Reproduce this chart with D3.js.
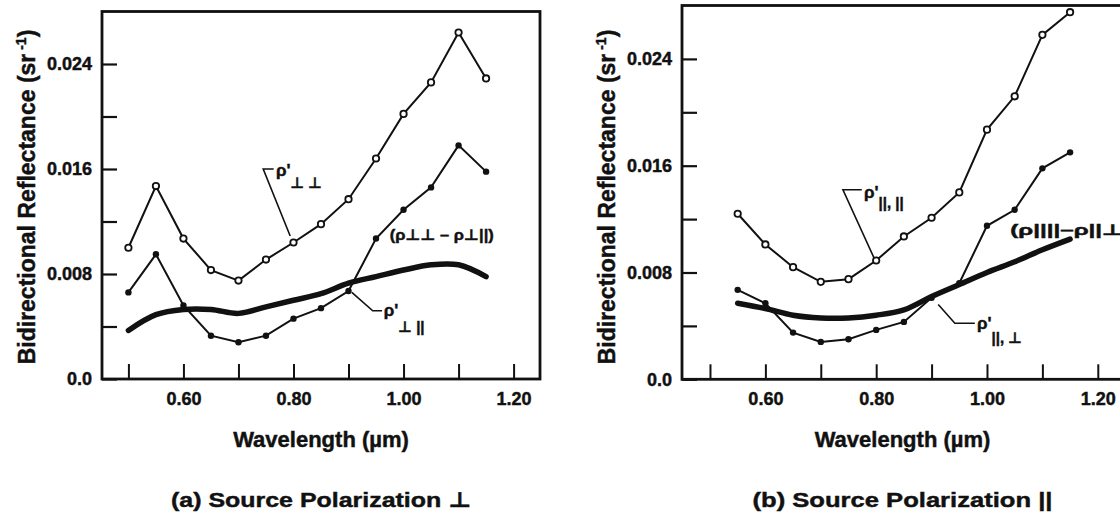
<!DOCTYPE html>
<html>
<head>
<meta charset="utf-8">
<script src="https://cdn.jsdelivr.net/npm/d3@7"></script>
<style>
  body { margin: 0; background: #fff; }
  svg { display: block; }
  text { font-family: "Liberation Sans", "DejaVu Sans", Arial, sans-serif; font-weight: bold; fill: #111; stroke: #111; stroke-width: 0.45; }
</style>
</head>
<body>
<div id="chart"></div>
<script>
// (a) source polarization perpendicular
const wavelengthA = [0.50, 0.55, 0.60, 0.65, 0.70, 0.75, 0.80, 0.85, 0.90, 0.95, 1.00, 1.05, 1.10, 1.15];
const rhoPerpPerp = [0.0100, 0.0147, 0.0107, 0.0083, 0.0075, 0.0091, 0.0104, 0.0118, 0.0137, 0.0168, 0.0202, 0.0226, 0.0264, 0.0229];
const rhoPerpPar  = [0.0066, 0.0095, 0.0056, 0.0033, 0.0028, 0.0033, 0.0046, 0.0054, 0.0067, 0.0107, 0.0129, 0.0146, 0.0178, 0.0158];
const rhoPerpDiff = [0.0037, 0.0049, 0.0053, 0.0053, 0.0050, 0.0055, 0.0060, 0.0065, 0.0073, 0.0078, 0.0083, 0.0087, 0.0087, 0.0078];

// (b) source polarization parallel
const wavelengthB = [0.55, 0.60, 0.65, 0.70, 0.75, 0.80, 0.85, 0.90, 0.95, 1.00, 1.05, 1.10, 1.15];
const rhoParPar  = [0.0124, 0.0101, 0.0084, 0.0073, 0.0075, 0.0089, 0.0107, 0.0121, 0.0140, 0.0187, 0.0212, 0.0258, 0.0275];
const rhoParPerp = [0.0067, 0.0057, 0.0035, 0.0028, 0.0030, 0.0037, 0.0043, 0.0061, 0.0072, 0.0115, 0.0127, 0.0158, 0.0170];
const rhoParDiff = [0.0057, 0.0053, 0.0048, 0.0046, 0.0046, 0.0048, 0.0052, 0.0062, 0.0071, 0.0080, 0.0088, 0.0097, 0.0105];

const yTicks = [0, 0.004, 0.008, 0.012, 0.016, 0.020, 0.024];
const xTicks = [0.5, 0.6, 0.7, 0.8, 0.9, 1.0, 1.1, 1.2];

const W = 1120, H = 517;
const svg = d3.select("#chart").append("svg")
    .attr("width", W)
    .attr("height", H);

const panels = [
    {
        left: 102, right: 540, top: 11.5, bottom: 379,
        xDomain: [0.452, 1.248],
        wl: wavelengthA, upper: rhoPerpPerp, lower: rhoPerpPar, diff: rhoPerpDiff,
        caption: "(a) Source Polarization \u22A5",
        upperLabel: { corner: [0.745, 0.0160], end: [0.764, 0.0160], tip: [0.794, 0.0109], text: [0.768, 0.0155], sub: "\u22A5 \u22A5", subDy: 12 },
        lowerLabel: { pts: [[0.906, 0.0066], [0.944, 0.0052], [0.961, 0.0052]], text: [0.964, 0.0048], sub: "\u22A5 ||", subDy: 16 },
        diffLabel: { text: [0.975, 0.0106], str: "(\u03C1\u22A5\u22A5 \u2013 \u03C1\u22A5||)", len: 104 }
    },
    {
        left: 682, right: 1123, top: 5.5, bottom: 379.3,
        xDomain: [0.4495, 1.2455],
        wl: wavelengthB, upper: rhoParPar, lower: rhoParPerp, diff: rhoParDiff,
        caption: "(b) Source Polarization ||",
        upperLabel: { corner: [0.740, 0.0142], end: [0.774, 0.0142], tip: [0.796, 0.0091], text: [0.778, 0.0136], sub: "||, ||", subDy: 10 },
        lowerLabel: { pts: [[0.912, 0.0056], [0.942, 0.0042], [0.978, 0.0042]], text: [0.982, 0.0038], sub: "||, \u22A5", subDy: 14 },
        diffLabel: { text: [1.042, 0.0108], str: "(\u03C1||||\u2013\u03C1||\u22A5)", len: 122 }
    }
];

panels.forEach(p => {
    const x = d3.scaleLinear().domain(p.xDomain).range([p.left, p.right]);
    const y = d3.scaleLinear().domain([0, 0.028]).range([p.bottom, p.top]);
    const g = svg.append("g");

    // y axis, ticks pointing inward
    g.append("g")
        .attr("transform", `translate(${p.left},0)`)
        .call(d3.axisLeft(y).tickValues(yTicks).tickSize(-15).tickSizeOuter(0).tickPadding(10)
            .tickFormat((d, i) => i % 2 ? "" : (d === 0 ? "0.0" : d3.format(".3f")(d))))
        .call(a => a.select(".domain").remove())
        .call(a => a.selectAll("line").attr("stroke", "#111").attr("stroke-width", 2.2))
        .call(a => a.selectAll("text").attr("font-size", 18).attr("fill", "#111"));

    // x axis
    g.append("g")
        .attr("transform", `translate(0,${p.bottom})`)
        .call(d3.axisBottom(x).tickValues(xTicks).tickSize(-15).tickSizeOuter(0).tickPadding(13)
            .tickFormat((d, i) => i % 2 ? d3.format(".2f")(d) : ""))
        .call(a => a.select(".domain").remove())
        .call(a => a.selectAll("line").attr("stroke", "#111").attr("stroke-width", 2))
        .call(a => a.selectAll("text").attr("font-size", 18).attr("fill", "#111"));

    // frame
    g.append("rect")
        .attr("x", p.left).attr("y", p.top)
        .attr("width", p.right - p.left).attr("height", p.bottom - p.top)
        .attr("fill", "none").attr("stroke", "#111").attr("stroke-width", 2.8);

    const line = d3.line().x(d => x(d[0])).y(d => y(d[1]));
    const smooth = d3.line().x(d => x(d[0])).y(d => y(d[1])).curve(d3.curveCatmullRom.alpha(0.5));

    const upper = d3.zip(p.wl, p.upper);
    const lower = d3.zip(p.wl, p.lower);
    const diff = d3.zip(p.wl, p.diff);

    g.append("path").datum(diff).attr("d", smooth)
        .attr("fill", "none").attr("stroke", "#111").attr("stroke-width", 5.5).attr("stroke-linecap", "round");
    g.append("path").datum(lower).attr("d", line)
        .attr("fill", "none").attr("stroke", "#111").attr("stroke-width", 2);
    g.append("path").datum(upper).attr("d", line)
        .attr("fill", "none").attr("stroke", "#111").attr("stroke-width", 2);

    g.selectAll(".up").data(upper).join("circle")
        .attr("cx", d => x(d[0])).attr("cy", d => y(d[1])).attr("r", 3.2)
        .attr("fill", "#fff").attr("stroke", "#111").attr("stroke-width", 1.8);
    g.selectAll(".lo").data(lower).join("circle")
        .attr("cx", d => x(d[0])).attr("cy", d => y(d[1])).attr("r", 3.2)
        .attr("fill", "#111");

    // labels
    const ul = p.upperLabel;
    g.append("path")
        .attr("d", d3.line()([[x(ul.end[0]), y(ul.end[1])], [x(ul.corner[0]), y(ul.corner[1])], [x(ul.tip[0]), y(ul.tip[1])]]))
        .attr("fill", "none").attr("stroke", "#111").attr("stroke-width", 1.6);
    const ut = g.append("text").attr("x", x(ul.text[0])).attr("y", y(ul.text[1])).attr("font-size", 17);
    ut.append("tspan").text("\u03C1'");
    ut.append("tspan").attr("dy", ul.subDy).attr("font-size", 15).text(ul.sub);

    const ll = p.lowerLabel;
    g.append("path")
        .attr("d", d3.line()(ll.pts.map(d => [x(d[0]), y(d[1])])))
        .attr("fill", "none").attr("stroke", "#111").attr("stroke-width", 1.6);
    const lt = g.append("text").attr("x", x(ll.text[0])).attr("y", y(ll.text[1])).attr("font-size", 17);
    lt.append("tspan").text("\u03C1'");
    lt.append("tspan").attr("dy", ll.subDy).attr("font-size", 15).text(ll.sub);

    g.append("text")
        .attr("x", x(p.diffLabel.text[0])).attr("y", y(p.diffLabel.text[1]))
        .attr("font-size", 15)
        .attr("textLength", p.diffLabel.len).attr("lengthAdjust", "spacingAndGlyphs")
        .text(p.diffLabel.str);

    // axis titles
    const cx = (p.left + p.right) / 2;
    g.append("text")
        .attr("x", cx).attr("y", 447)
        .attr("text-anchor", "middle").attr("font-size", 22)
        .text("Wavelength (\u00B5m)");

    g.append("text")
        .attr("x", cx).attr("y", 507)
        .attr("text-anchor", "middle").attr("font-size", 21)
        .attr("textLength", 300).attr("lengthAdjust", "spacingAndGlyphs")
        .text(p.caption);

    const yl = g.append("text")
        .attr("transform", `translate(${p.left - 67},197) rotate(-90)`)
        .attr("text-anchor", "middle").attr("font-size", 23);
    yl.append("tspan").text("Bidirectional Reflectance (sr");
    yl.append("tspan").attr("dy", -9).attr("font-size", 14).text(" -1");
    yl.append("tspan").attr("dy", 9).text(")");
});
</script>
</body>
</html>
